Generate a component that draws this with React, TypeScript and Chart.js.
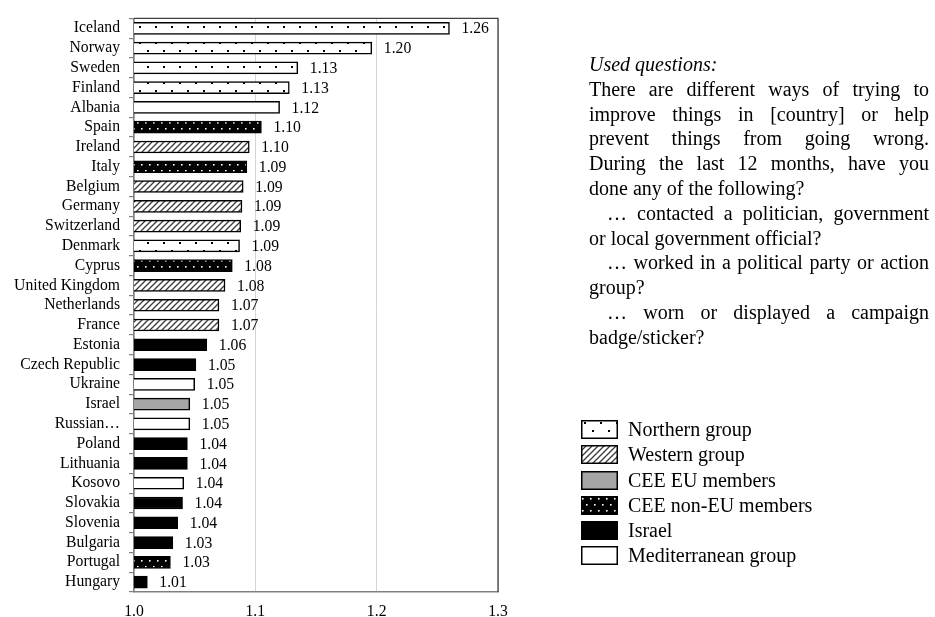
import React, { useEffect, useRef } from 'react';
import { Chart, registerables } from 'chart.js';
Chart.register(...registerables);

const countries = [
  'Iceland', 'Norway', 'Sweden', 'Finland', 'Albania', 'Spain', 'Ireland', 'Italy',
  'Belgium', 'Germany', 'Switzerland', 'Denmark', 'Cyprus', 'United Kingdom',
  'Netherlands', 'France', 'Estonia', 'Czech Republic', 'Ukraine', 'Israel',
  'Russian…', 'Poland', 'Lithuania', 'Kosovo', 'Slovakia', 'Slovenia', 'Bulgaria',
  'Portugal', 'Hungary',
];
const values = [
  1.26, 1.196, 1.135, 1.128, 1.12, 1.105, 1.095, 1.093, 1.09, 1.089, 1.088, 1.087,
  1.081, 1.075, 1.07, 1.07, 1.06, 1.051, 1.05, 1.046, 1.046, 1.044, 1.044, 1.041,
  1.04, 1.036, 1.032, 1.03, 1.011,
];
const valueLabels = [
  '1.26', '1.20', '1.13', '1.13', '1.12', '1.10', '1.10', '1.09', '1.09', '1.09',
  '1.09', '1.09', '1.08', '1.08', '1.07', '1.07', '1.06', '1.05', '1.05', '1.05',
  '1.05', '1.04', '1.04', '1.04', '1.04', '1.04', '1.03', '1.03', '1.01',
];
// N = dotted white, W = hatched, G = grey, D = black dotted, B = black, M = white
const barKinds = [
  'N', 'N', 'N', 'N', 'M', 'D', 'W', 'D', 'W', 'W', 'W', 'N', 'D', 'W', 'W', 'W',
  'B', 'B', 'M', 'G', 'M', 'B', 'B', 'M', 'B', 'B', 'B', 'D', 'B',
];
const xTicks = [1.0, 1.1, 1.2, 1.3];

const legendNames = [
  'Northern group', 'Western group', 'CEE EU members', 'CEE non-EU members',
  'Israel', 'Mediterranean group',
];
const legendKinds = ['N', 'W', 'G', 'D', 'B', 'M'];

const noteTitle = 'Used questions:';
const noteLines: { text: string; justify: boolean; indent: boolean }[] = [
  { text: 'There are different ways of trying to', justify: true, indent: false },
  { text: 'improve things in [country] or help', justify: true, indent: false },
  { text: 'prevent things from going wrong.', justify: true, indent: false },
  { text: 'During the last 12 months, have you', justify: true, indent: false },
  { text: 'done any of the following?', justify: false, indent: false },
  { text: '… contacted a politician, government', justify: true, indent: true },
  { text: 'or local government official?', justify: false, indent: false },
  { text: '… worked in a political party or action', justify: true, indent: true },
  { text: 'group?', justify: false, indent: false },
  { text: '… worn or displayed a campaign', justify: true, indent: true },
  { text: 'badge/sticker?', justify: false, indent: false },
];

const FONT = "'Liberation Serif', 'Times New Roman', serif";

function makeFill(kind: string): string | CanvasPattern {
  if (kind === 'G') return '#a6a6a6';
  if (kind === 'B') return '#000000';
  if (kind === 'M') return '#ffffff';
  const c = document.createElement('canvas');
  const ctx = c.getContext('2d')!;
  if (kind === 'N') {
    c.width = 16; c.height = 16;
    ctx.fillStyle = '#ffffff'; ctx.fillRect(0, 0, 16, 16);
    ctx.fillStyle = '#000000';
    ctx.fillRect(3, 2, 2, 2);
    ctx.fillRect(11, 10, 2, 2);
  } else if (kind === 'D') {
    c.width = 8; c.height = 12;
    ctx.fillStyle = '#000000'; ctx.fillRect(0, 0, 8, 12);
    ctx.fillStyle = '#ffffff';
    ctx.fillRect(1, 2, 1.6, 1.6);
    ctx.fillRect(5, 8, 1.6, 1.6);
  } else {
    const s = 6;
    c.width = s; c.height = s;
    ctx.fillStyle = '#ffffff'; ctx.fillRect(0, 0, s, s);
    ctx.strokeStyle = '#3a3a3a'; ctx.lineWidth = 1.3;
    ctx.beginPath();
    ctx.moveTo(0, s); ctx.lineTo(s, 0);
    ctx.moveTo(-1, 1); ctx.lineTo(1, -1);
    ctx.moveTo(s - 1, s + 1); ctx.lineTo(s + 1, s - 1);
    ctx.stroke();
  }
  return ctx.createPattern(c, 'repeat')!;
}

function Swatch({ kind }: { kind: string }) {
  const ref = useRef<HTMLCanvasElement | null>(null);
  useEffect(() => {
    const cv = ref.current;
    if (!cv) return;
    const ctx = cv.getContext('2d')!;
    ctx.clearRect(0, 0, cv.width, cv.height);
    ctx.fillStyle = makeFill(kind) as any;
    ctx.fillRect(0, 0, cv.width, cv.height);
    if (kind !== 'D' && kind !== 'B') {
      ctx.strokeStyle = '#000000';
      ctx.lineWidth = 1.5;
      ctx.strokeRect(0.75, 0.75, cv.width - 1.5, cv.height - 1.5);
    }
  }, [kind]);
  return <canvas ref={ref} width={37} height={19} style={{ display: 'block' }} />;
}

export default function App() {
  const canvasRef = useRef<HTMLCanvasElement | null>(null);

  useEffect(() => {
    document.body.style.margin = '0';
    const cv = canvasRef.current;
    if (!cv) return;

    const valueLabelPlugin = {
      id: 'valueLabels',
      afterDatasetsDraw(chart: any) {
        const ctx = chart.ctx;
        const meta = chart.getDatasetMeta(0);
        ctx.save();
        ctx.font = `15.7px ${FONT}`;
        ctx.fillStyle = '#000';
        ctx.textAlign = 'left';
        ctx.textBaseline = 'middle';
        meta.data.forEach((el: any, i: number) => {
          ctx.fillText(valueLabels[i], el.x + 12, el.y + 1);
        });
        ctx.restore();
      },
    };
    const framePlugin = {
      id: 'frame',
      afterDraw(chart: any) {
        const { ctx, chartArea } = chart;
        ctx.save();
        ctx.strokeStyle = '#404040';
        ctx.lineWidth = 1.3;
        ctx.beginPath();
        ctx.moveTo(chartArea.left, chartArea.top);
        ctx.lineTo(chartArea.right, chartArea.top);
        ctx.lineTo(chartArea.right, chartArea.bottom);
        ctx.stroke();
        ctx.restore();
      },
    };

    const chart = new Chart(cv, {
      type: 'bar',
      data: {
        labels: countries,
        datasets: [
          {
            data: values,
            backgroundColor: barKinds.map(makeFill) as any,
            borderColor: '#000000',
            borderWidth: 1.5,
            borderSkipped: false,
            barThickness: 12,
          },
        ],
      },
      options: {
        indexAxis: 'y',
        responsive: false,
        animation: false,
        devicePixelRatio: 1,
        layout: { padding: { left: 0, top: 15, right: 437, bottom: 0 } },
        plugins: {
          legend: { display: false },
          tooltip: { enabled: false },
        },
        scales: {
          x: {
            type: 'linear',
            min: xTicks[0],
            max: xTicks[xTicks.length - 1],
            afterBuildTicks: (scale: any) => {
              scale.ticks = xTicks.map((v) => ({ value: v }));
            },
            afterFit: (scale: any) => {
              scale.height = 25;
            },
            ticks: {
              callback: (v: any) => Number(v).toFixed(1),
              font: { family: FONT, size: 15.7 },
              color: '#000',
              padding: 10,
              maxRotation: 0,
            },
            grid: {
              color: '#d4d4d4',
              lineWidth: 1,
              drawTicks: false,
            },
            border: { color: '#7f7f7f', width: 1.5 },
          },
          y: {
            type: 'category',
            afterFit: (scale: any) => {
              scale.width = 134;
            },
            ticks: {
              autoSkip: false,
              font: { family: FONT, size: 15.7 },
              color: '#000',
              padding: 9,
            },
            grid: {
              offset: true,
              drawOnChartArea: false,
              drawTicks: true,
              tickLength: 5,
              color: '#7f7f7f',
              lineWidth: 1.2,
            },
            border: { color: '#7f7f7f', width: 1.5 },
          },
        },
      },
      plugins: [valueLabelPlugin, framePlugin],
    } as any);

    return () => chart.destroy();
  }, []);

  const legendCenters = [429, 454, 480, 505, 530, 555];

  return (
    <div style={{ position: 'fixed', left: 0, top: 0, width: 935, height: 617, background: '#fff', fontFamily: FONT, color: '#000' }}>
      <canvas ref={canvasRef} width={935} height={617} style={{ position: 'absolute', left: 0, top: 0, width: 935, height: 617 }} />
      <div style={{ position: 'absolute', left: 589, top: 52, width: 340, fontSize: 20, lineHeight: '24.8px' }}>
        <div style={{ fontStyle: 'italic' }}>{noteTitle}</div>
        {noteLines.map((l, i) => (
          <div
            key={i}
            style={{
              textAlign: l.justify ? 'justify' : 'left',
              textAlignLast: l.justify ? 'justify' : 'left',
              paddingLeft: l.indent ? 18 : 0,
            } as any}
          >
            {l.text}
          </div>
        ))}
      </div>
      {legendNames.map((name, i) => (
        <div
          key={name}
          style={{
            position: 'absolute',
            left: 581,
            top: legendCenters[i] - 12.5,
            height: 25,
            display: 'flex',
            alignItems: 'center',
            fontSize: 20,
            whiteSpace: 'nowrap',
          }}
        >
          <Swatch kind={legendKinds[i]} />
          <span style={{ marginLeft: 10 }}>{name}</span>
        </div>
      ))}
    </div>
  );
}
